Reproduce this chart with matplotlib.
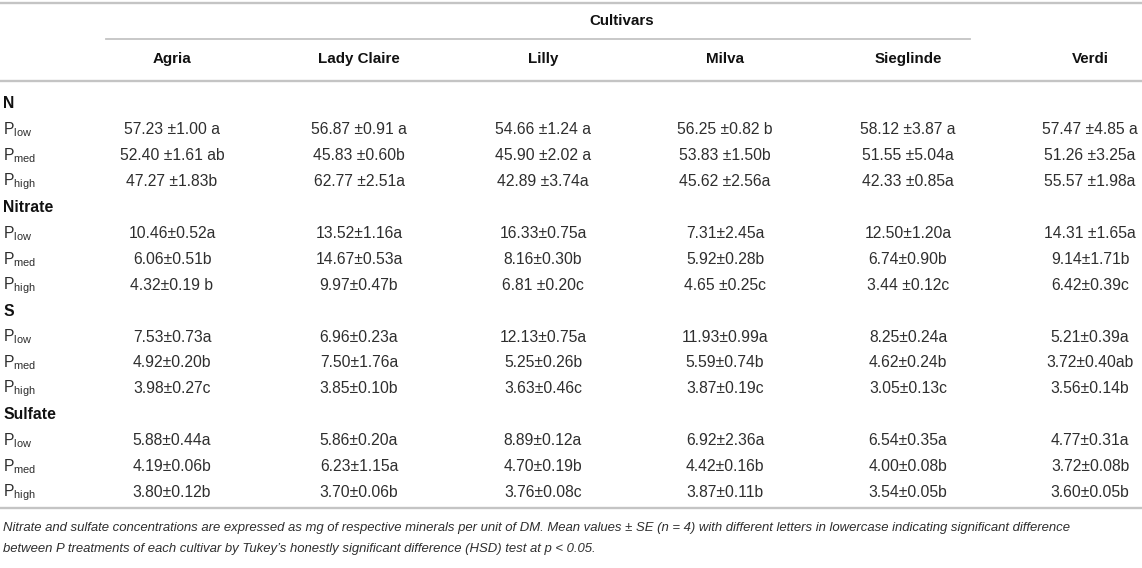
import matplotlib
matplotlib.use("Agg")
import matplotlib.pyplot as plt

plt.rcParams['font.family'] = ['Liberation Sans', 'DejaVu Sans']
plt.rcParams['mathtext.fontset'] = 'custom'
plt.rcParams['mathtext.rm'] = 'Liberation Sans'

cultivars = ["Agria", "Lady Claire", "Lilly", "Milva", "Sieglinde", "Verdi"]
treatments = ["low", "med", "high"]
groups = ["N", "Nitrate", "S", "Sulfate"]

n_vals = [
    ["57.23 ±1.00 a", "56.87 ±0.91 a", "54.66 ±1.24 a", "56.25 ±0.82 b", "58.12 ±3.87 a", "57.47 ±4.85 a"],
    ["52.40 ±1.61 ab", "45.83 ±0.60b", "45.90 ±2.02 a", "53.83 ±1.50b", "51.55 ±5.04a", "51.26 ±3.25a"],
    ["47.27 ±1.83b", "62.77 ±2.51a", "42.89 ±3.74a", "45.62 ±2.56a", "42.33 ±0.85a", "55.57 ±1.98a"],
]
nitrate_vals = [
    ["10.46±0.52a", "13.52±1.16a", "16.33±0.75a", "7.31±2.45a", "12.50±1.20a", "14.31 ±1.65a"],
    ["6.06±0.51b", "14.67±0.53a", "8.16±0.30b", "5.92±0.28b", "6.74±0.90b", "9.14±1.71b"],
    ["4.32±0.19 b", "9.97±0.47b", "6.81 ±0.20c", "4.65 ±0.25c", "3.44 ±0.12c", "6.42±0.39c"],
]
s_vals = [
    ["7.53±0.73a", "6.96±0.23a", "12.13±0.75a", "11.93±0.99a", "8.25±0.24a", "5.21±0.39a"],
    ["4.92±0.20b", "7.50±1.76a", "5.25±0.26b", "5.59±0.74b", "4.62±0.24b", "3.72±0.40ab"],
    ["3.98±0.27c", "3.85±0.10b", "3.63±0.46c", "3.87±0.19c", "3.05±0.13c", "3.56±0.14b"],
]
sulfate_vals = [
    ["5.88±0.44a", "5.86±0.20a", "8.89±0.12a", "6.92±2.36a", "6.54±0.35a", "4.77±0.31a"],
    ["4.19±0.06b", "6.23±1.15a", "4.70±0.19b", "4.42±0.16b", "4.00±0.08b", "3.72±0.08b"],
    ["3.80±0.12b", "3.70±0.06b", "3.76±0.08c", "3.87±0.11b", "3.54±0.05b", "3.60±0.05b"],
]
footnote = [
    "Nitrate and sulfate concentrations are expressed as mg of respective minerals per unit of DM. "
    "Mean values \u00b1 SE (n = 4) with different letters in lowercase indicating significant difference",
    "between P treatments of each cultivar by Tukey\u2019s honestly significant difference (HSD) test at p < 0.05.",
]

W, H = 1142, 568
fig = plt.figure(figsize=(W / 100, H / 100), dpi=100)
ax = fig.add_axes([0, 0, 1, 1])
ax.set_xlim(0, W)
ax.set_ylim(H, 0)
ax.axis('off')

rule = '#c4c4c4'
txt = '#2e2e2e'
dark = '#111111'
col_x = [172, 359, 543, 725, 908, 1090]
body = 11.3

ax.plot([0, W], [3, 3], color=rule, lw=1.7)
ax.text(622, 21, "Cultivars", ha='center', va='center', fontsize=10.9, fontweight='bold', color=dark)
ax.plot([106, 970], [39, 39], color=rule, lw=1.3)
for x, c in zip(col_x, cultivars):
    ax.text(x, 59, c, ha='center', va='center', fontsize=10.9, fontweight='bold', color=dark)
ax.plot([0, W], [81, 81], color=rule, lw=1.7)

# row block: group label, then P low / med / high
y = 104
step = 25.9
for g, vals in zip(groups, [n_vals, nitrate_vals, s_vals, sulfate_vals]):
    ax.text(3, y, g, ha='left', va='center', fontsize=body, fontweight='bold', color=dark)
    y += step
    for t, row in zip(treatments, vals):
        ax.text(3, y, "P$_{\\mathregular{%s}}$" % t, ha='left', va='center', fontsize=body, color=txt)
        for x, v in zip(col_x, row):
            ax.text(x, y, v, ha='center', va='center', fontsize=body, color=txt)
        y += step

ax.plot([0, W], [508, 508], color=rule, lw=1.7)
ax.text(3, 528, footnote[0], ha='left', va='center', fontsize=9.45, style='italic', color=txt)
ax.text(3, 549, footnote[1], ha='left', va='center', fontsize=9.45, style='italic', color=txt)

fig.savefig("out.png", dpi=100)
